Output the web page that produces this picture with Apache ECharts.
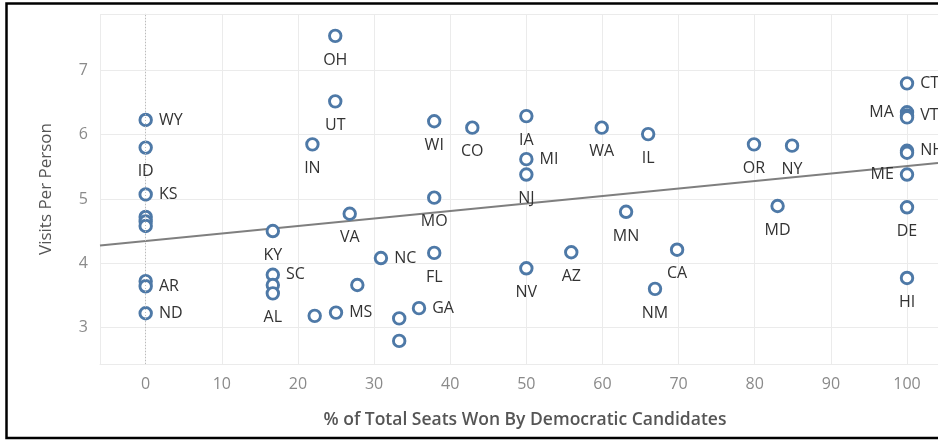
<!DOCTYPE html>
<html>
<head>
<meta charset="utf-8">
<script src="https://cdn.jsdelivr.net/npm/echarts@6/dist/echarts.min.js"></script>
<style>
html,body{margin:0;padding:0;background:#fff;}
#chart{width:938px;height:442px;}
</style>
</head>
<body>
<div id="chart"></div>
<script>
// ---- data ----
const states = ['WY','ID','KS','','','','','AR','ND',
  'KY','SC','','AL','','MS','','','','GA','NC','FL','VA','IN','UT','OH',
  'WI','MO','CO','IA','MI','NJ','NV','AZ','WA','MN','IL','NM','CA',
  'OR','NY','MD','CT','MA','VT','','NH','','ME','DE','HI'];
const seatsPct = [0,0,0,0,0,0,0,0,0,
  16.7,16.7,16.7,16.7,22.2,25,27.8,33.3,33.3,35.9,30.9,37.9,26.8,21.9,24.9,24.9,
  37.9,37.9,42.9,50,50,50,50,55.9,59.9,63.1,66,66.9,69.8,
  79.9,84.9,83,100,100,100,100,100,100,100,100,100];
const visits = [6.23,5.80,5.07,4.72,4.65,4.58,3.72,3.64,3.22,
  4.50,3.82,3.66,3.53,3.18,3.23,3.66,3.14,2.79,3.30,4.08,4.16,4.77,5.85,6.52,7.54,
  6.21,5.02,6.11,6.29,5.62,5.38,3.92,4.17,6.11,4.80,6.01,3.60,4.21,
  5.85,5.83,4.89,6.80,6.35,6.30,6.27,5.75,5.72,5.38,4.87,3.77];
const xTicks = [0,10,20,30,40,50,60,70,80,90,100];
const yTicks = [3,4,5,6,7];
const trendIntercept = 4.346;
const trendSlope = 0.01167;

// ---- styling (label placement per state) ----
const labelRight = ['WY','KS','AR','ND','SC','MS','GA','NC','MI','CT','VT','NH'];
const labelLeft = ['MA','ME'];

const xMin = -6, xMax = 104.07, yMin = 2.43, yMax = 7.88;
const FONT = '"Open Sans", "Noto Sans", sans-serif';

const points = states.map((s, i) => {
  let pos = 'bottom', dist = 9;
  if (labelRight.includes(s)) { pos = 'right'; dist = 6; }
  if (labelLeft.includes(s)) { pos = 'left'; dist = 6; }
  return { name: s, value: [seatsPct[i], visits[i]], label: { position: pos, distance: dist } };
});

const trendData = [xMin, xMax].map(x => [x, trendIntercept + trendSlope * x]);

const chart = echarts.init(document.getElementById('chart'), null, { renderer: 'canvas' });
chart.setOption({
  animation: false,
  backgroundColor: '#fff',
  textStyle: { fontFamily: FONT },
  grid: { left: 100, top: 14, right: 0, bottom: 78, containLabel: false },
  xAxis: {
    type: 'value', min: xMin, max: xMax,
    splitNumber: 11, minInterval: 10, maxInterval: 10,
    name: '% of Total Seats Won By Democratic Candidates',
    nameLocation: 'middle', nameGap: 47,
    nameTextStyle: { color: '#555', fontSize: 17.5, fontWeight: 600, fontFamily: FONT, padding: [0, 0, 0, 12] },
    axisLine: { show: true, lineStyle: { color: '#ebebeb', width: 1 } },
    axisTick: { show: false },
    axisLabel: {
      color: '#8a8a8a', fontSize: 16, margin: 12, fontFamily: FONT,
      showMinLabel: false, showMaxLabel: false,
      formatter: v => xTicks.includes(v) ? String(v) : ''
    },
    splitLine: { show: true, lineStyle: { color: '#ebebeb', width: 1 } }
  },
  yAxis: {
    type: 'value', min: yMin, max: yMax,
    splitNumber: 5, minInterval: 1, maxInterval: 1,
    name: 'Visits Per Person',
    nameLocation: 'middle', nameGap: 45, nameRotate: 90,
    nameTextStyle: { color: '#555', fontSize: 17, fontFamily: FONT },
    axisLine: { show: true, lineStyle: { color: '#ebebeb', width: 1 } },
    axisTick: { show: false },
    axisLabel: {
      color: '#8a8a8a', fontSize: 16, margin: 12, fontFamily: FONT,
      showMinLabel: false, showMaxLabel: false,
      formatter: v => yTicks.includes(v) ? String(v) : ''
    },
    splitLine: { show: true, lineStyle: { color: '#ebebeb', width: 1 } }
  },
  series: [
    {
      type: 'line',
      data: trendData,
      symbol: 'none',
      silent: true,
      z: 1,
      lineStyle: { color: '#7f7f7f', width: 2 },
      markLine: {
        silent: true,
        symbol: 'none',
        label: { show: false },
        lineStyle: { color: '#bbb', type: [1, 2], width: 1 },
        data: [{ xAxis: 0 }]
      }
    },
    {
      type: 'scatter',
      data: points,
      symbol: 'circle',
      symbolSize: 11.5,
      z: 3,
      itemStyle: { color: '#fff', borderColor: '#4e79a7', borderWidth: 2.9, opacity: 1 },
      label: {
        show: true,
        formatter: p => p.name,
        color: '#333',
        fontSize: 16,
        fontFamily: FONT
      }
    }
  ],
  graphic: [{
    type: 'rect',
    shape: { x: 6.5, y: 3.5, width: 1000, height: 434.5 },
    style: { fill: 'none', stroke: '#000', lineWidth: 2.5 },
    silent: true,
    z: 100
  }]
});
</script>
</body>
</html>
